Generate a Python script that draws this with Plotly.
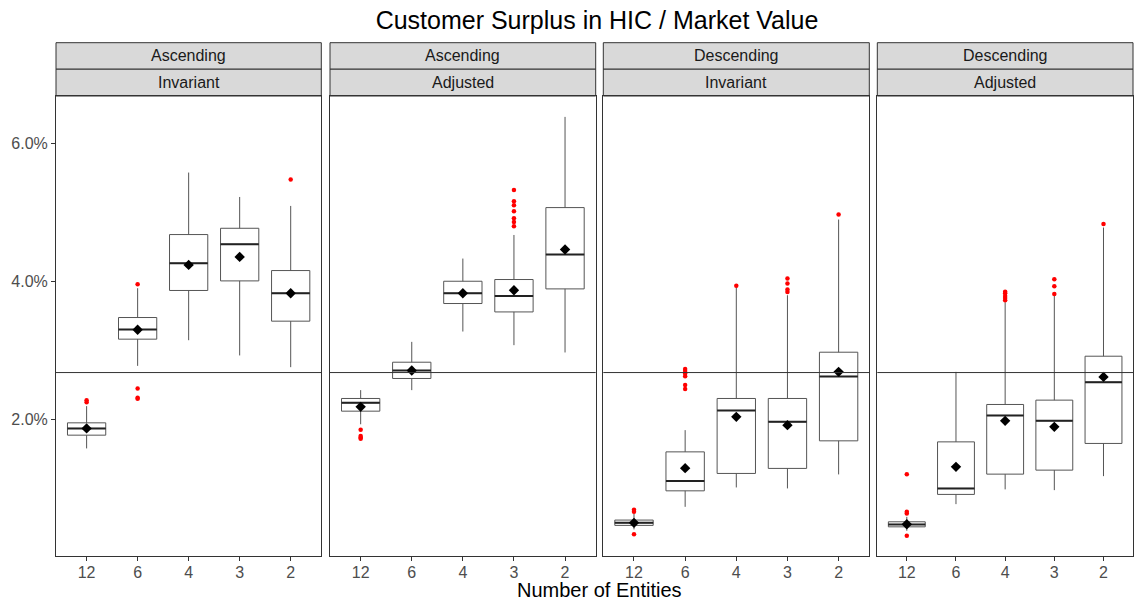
import plotly.graph_objects as go
from plotly.subplots import make_subplots

# ---------------- data (values in %) ----------------
categories = ["12", "6", "4", "3", "2"]
strip_top = ["Ascending", "Ascending", "Descending", "Descending"]
strip_bottom = ["Invariant", "Adjusted", "Invariant", "Adjusted"]

q1 = [
    [1.772, 3.164, 3.870, 4.009, 3.425],
    [2.120, 2.594, 3.681, 3.559, 3.893],
    [0.464, 0.965, 1.217, 1.290, 1.690],
    [0.443, 0.913, 1.207, 1.265, 1.652],
]
median = [
    [1.870, 3.304, 4.265, 4.541, 3.830],
    [2.241, 2.710, 3.830, 3.791, 4.391],
    [0.501, 1.106, 2.130, 1.965, 2.623],
    [0.478, 1.000, 2.058, 1.980, 2.541],
]
q3 = [
    [1.951, 3.478, 4.681, 4.772, 4.159],
    [2.304, 2.830, 4.004, 4.029, 5.072],
    [0.541, 1.530, 2.304, 2.304, 2.975],
    [0.516, 1.675, 2.217, 2.280, 2.917],
]
whisker_low = [
    [1.580, 2.777, 3.149, 2.928, 2.758],
    [1.930, 2.425, 3.275, 3.077, 2.971],
    [0.406, 0.733, 1.014, 1.000, 1.203],
    [0.386, 0.772, 0.986, 0.975, 1.178],
]
whisker_high = [
    [2.193, 3.903, 5.580, 5.226, 5.096],
    [2.425, 3.125, 4.333, 4.675, 6.387],
    [0.638, 1.845, 3.930, 3.801, 4.899],
    [0.588, 2.690, 3.700, 3.800, 4.783],
]
means = [
    [1.870, 3.300, 4.241, 4.357, 3.830],
    [2.183, 2.710, 3.830, 3.874, 4.464],
    [0.501, 1.294, 2.038, 1.917, 2.690],
    [0.480, 1.313, 1.980, 1.893, 2.617],
]
outliers = [
    {"12": [2.28, 2.25], "6": [3.961, 2.449, 2.313, 2.30], "2": [5.478]},
    {"12": [1.85, 1.76, 1.74, 1.72], "3": [5.328, 5.164, 5.106, 5.019, 4.918, 4.864, 4.801]},
    {"12": [0.69, 0.66, 0.337], "6": [2.733, 2.704, 2.667, 2.627, 2.501, 2.443],
     "4": [3.94], "3": [4.043, 3.971, 3.884, 3.849], "2": [4.971]},
    {"12": [1.207, 0.661, 0.638, 0.313], "4": [3.85, 3.83, 3.79, 3.76, 3.73],
     "3": [4.033, 3.932, 3.82], "2": [4.835]},
]
reference_line = 2.68
y_ticks = [2, 4, 6]
y_tick_labels = [f"{v:.1f}%" for v in y_ticks]

# ---------------- figure ----------------
W, H = 1135, 600
ml, mr, mt, mb = 56, 2, 96, 44
pw = W - ml - mr
ph = H - mt - mb

px_domains = [(56, 321.3), (330, 595.7), (603.3, 869.3), (877.3, 1133)]
domains = [((a - ml) / pw, (b - ml) / pw) for a, b in px_domains]

fig = make_subplots(rows=1, cols=4, shared_yaxes=True, horizontal_spacing=0.008)

line_col = "#333333"
for i in range(4):
    col = i + 1
    fig.add_trace(go.Box(
        x=categories, q1=q1[i], median=median[i], q3=q3[i],
        lowerfence=whisker_low[i], upperfence=whisker_high[i],
        fillcolor="white", line=dict(color="#555555", width=1),
        whiskerwidth=0, width=0.75, boxpoints=False, showlegend=False,
    ), row=1, col=col)
    # thicker median line
    fig.add_trace(go.Box(
        x=categories, q1=median[i], median=median[i], q3=median[i],
        lowerfence=median[i], upperfence=median[i],
        fillcolor="rgba(0,0,0,0)", line=dict(color="#222222", width=2),
        whiskerwidth=0, width=0.75, boxpoints=False, showlegend=False,
    ), row=1, col=col)
    ox, oy = [], []
    for c in categories:
        for v in outliers[i].get(c, []):
            ox.append(c)
            oy.append(v)
    fig.add_trace(go.Scatter(
        x=ox, y=oy, mode="markers",
        marker=dict(color="red", size=4.5, line=dict(width=0)),
        showlegend=False,
    ), row=1, col=col)
    fig.add_trace(go.Scatter(
        x=categories, y=means[i], mode="markers",
        marker=dict(color="black", size=8, symbol="diamond", line=dict(width=0)),
        showlegend=False,
    ), row=1, col=col)
    fig.add_hline(y=reference_line, row=1, col=col,
                  line=dict(color=line_col, width=1))

for i in range(4):
    xname = "xaxis" if i == 0 else f"xaxis{i+1}"
    yname = "yaxis" if i == 0 else f"yaxis{i+1}"
    fig.layout[xname].update(
        domain=list(domains[i]), type="category", range=[-0.6, 4.6],
        showline=True, mirror=True, linecolor=line_col, linewidth=1,
        ticks="outside", ticklen=4, tickcolor=line_col, showgrid=False,
        tickfont=dict(size=16, color="#4D4D4D"), zeroline=False,
        ticklabelstandoff=-2,
    )
    fig.layout[yname].update(
        range=[0.02, 6.69], showline=True, mirror=True, linecolor=line_col,
        linewidth=1, showgrid=False, zeroline=False,
        tickmode="array", tickvals=y_ticks, ticktext=y_tick_labels,
        ticks="outside" if i == 0 else "", ticklen=4, tickcolor=line_col,
        showticklabels=(i == 0),
        tickfont=dict(size=16, color="#4D4D4D"),
    )
    x0, x1 = domains[i]
    s1 = 1 + (96 - 69) / ph
    s2 = 1 + (96 - 42.7) / ph
    fig.add_shape(type="rect", xref="paper", yref="paper", x0=x0, x1=x1,
                  y0=1.0, y1=s1, fillcolor="#D9D9D9",
                  line=dict(color=line_col, width=1), layer="below")
    fig.add_shape(type="rect", xref="paper", yref="paper", x0=x0, x1=x1,
                  y0=s1, y1=s2, fillcolor="#D9D9D9",
                  line=dict(color=line_col, width=1), layer="below")
    fig.add_annotation(x=(x0 + x1) / 2, y=(1.0 + s1) / 2, xref="paper", yref="paper",
                       text=strip_bottom[i], showarrow=False,
                       font=dict(size=16, color="#1A1A1A"),
                       xanchor="center", yanchor="middle")
    fig.add_annotation(x=(x0 + x1) / 2, y=(s1 + s2) / 2, xref="paper", yref="paper",
                       text=strip_top[i], showarrow=False,
                       font=dict(size=16, color="#1A1A1A"),
                       xanchor="center", yanchor="middle")

fig.add_annotation(x=0.505, y=(ph - (590 - mt)) / ph, xref="paper", yref="paper",
                   text="Number of Entities", showarrow=False,
                   font=dict(size=20, color="black"),
                   xanchor="center", yanchor="middle")

fig.update_layout(
    width=W, height=H,
    margin=dict(l=ml, r=mr, t=mt, b=mb),
    paper_bgcolor="white", plot_bgcolor="white",
    boxmode="overlay",
    font=dict(family="Liberation Sans, Arial, sans-serif"),
    title=dict(text="Customer Surplus in HIC / Market Value", x=0.526, xanchor="center",
               y=1 - 20 / H, yanchor="middle", font=dict(size=25, color="black")),
    showlegend=False,
)

fig.write_html(
    "out.html",
    config={"displayModeBar": False},
    post_script="document.body.style.margin='0';document.body.style.overflow='hidden';",
)
